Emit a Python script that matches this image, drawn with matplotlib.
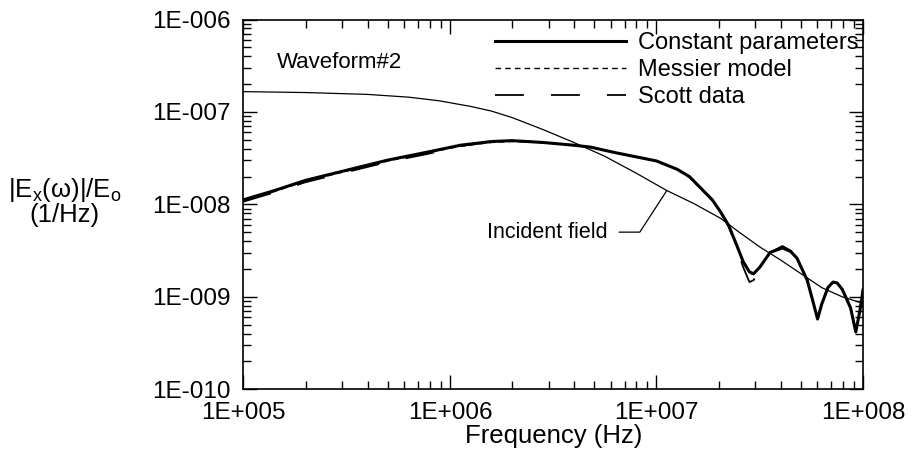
import numpy as np
import matplotlib
matplotlib.use('Agg')
import matplotlib.pyplot as plt
from matplotlib.ticker import LogLocator, FixedLocator, FixedFormatter, NullFormatter

plt.rcParams['font.family'] = ['Liberation Sans', 'DejaVu Sans']

# Data (log10 of frequency in Hz, log10 of |Ex|/Eo)
incident_logf = [5.0, 5.3, 5.6, 5.8, 5.95, 6.1, 6.2, 6.3, 6.45, 6.6, 6.75, 6.9, 7.05,
                 7.18, 7.31, 7.4, 7.5, 7.6, 7.7, 7.8, 7.9, 8.0]
incident_logy = [-6.78, -6.79, -6.81, -6.84, -6.88, -6.94, -6.99, -7.06, -7.19, -7.33,
                 -7.48, -7.66, -7.85, -7.99, -8.15, -8.30, -8.46, -8.60, -8.75, -8.90,
                 -9.00, -9.07]

const_logf = [5.0, 5.15, 5.3, 5.5, 5.7, 5.9, 6.05, 6.2, 6.3, 6.45, 6.6, 6.68, 6.8,
              7.0, 7.1, 7.16, 7.27, 7.31, 7.35, 7.39, 7.42, 7.45, 7.47, 7.5, 7.55,
              7.61, 7.65, 7.68, 7.73, 7.76, 7.78, 7.8, 7.83, 7.855, 7.875, 7.9,
              7.94, 7.965, 7.985, 8.0]
const_logy = [-7.95, -7.85, -7.74, -7.63, -7.52, -7.43, -7.36, -7.32, -7.31, -7.33,
              -7.36, -7.38, -7.44, -7.53, -7.62, -7.70, -7.95, -8.08, -8.23, -8.45,
              -8.62, -8.73, -8.75, -8.68, -8.52, -8.47, -8.51, -8.58, -8.82, -9.07,
              -9.24, -9.08, -8.90, -8.84, -8.85, -8.92, -9.12, -9.38, -9.15, -8.93]

messier_logy = [-7.96, -7.86, -7.75, -7.64, -7.53, -7.44, -7.37, -7.33, -7.32, -7.33,
                -7.36, -7.38, -7.44, -7.53, -7.62, -7.71, -7.96, -8.09, -8.24, -8.46,
                -8.63, -8.74, -8.76, -8.68, -8.52, -8.47, -8.51, -8.59, -8.83, -9.08,
                -9.22, -9.07, -8.90, -8.84, -8.85, -8.93, -9.13, -9.36, -9.14, -8.92]

scott_logy = [-7.97, -7.87, -7.76, -7.65, -7.54, -7.45, -7.37, -7.32, -7.31, -7.33,
              -7.36, -7.38, -7.44, -7.53, -7.62, -7.70, -7.95, -8.08, -8.24, -8.48,
              -8.68, -8.84, -8.82, -8.70, -8.52, -8.45, -8.50, -8.58, -8.82, -9.07,
              -9.24, -9.08, -8.90, -8.83, -8.85, -8.92, -9.12, -9.38, -9.15, -8.90]

xtick_vals = [1e5, 1e6, 1e7, 1e8]
xtick_labels = ['1E+005', '1E+006', '1E+007', '1E+008']
ytick_vals = [1e-10, 1e-9, 1e-8, 1e-7, 1e-6]
ytick_labels = ['1E-010', '1E-009', '1E-008', '1E-007', '1E-006']

fig = plt.figure(figsize=(9.14, 4.58), dpi=100)
ax = fig.add_axes([0.2664, 0.150, 0.6778, 0.8074])

f_inc = 10 ** np.array(incident_logf)
f = 10 ** np.array(const_logf)

ax.plot(f_inc, 10 ** np.array(incident_logy), color='black', lw=0.9)
ax.plot(f, 10 ** np.array(const_logy), color='black', lw=2.2, label='Constant parameters')
ax.plot(f, 10 ** np.array(messier_logy), color='black', lw=1.0, dashes=(4, 3),
        label='Messier model')
ax.plot(f, 10 ** np.array(scott_logy), color='black', lw=1.3, dashes=(16, 15),
        label='Scott data')

ax.set_xscale('log')
ax.set_yscale('log')
ax.set_xlim(1e5, 1e8)
ax.set_ylim(1e-10, 1e-6)

ax.xaxis.set_major_locator(FixedLocator(xtick_vals))
ax.xaxis.set_major_formatter(FixedFormatter(xtick_labels))
ax.yaxis.set_major_locator(FixedLocator(ytick_vals))
ax.yaxis.set_major_formatter(FixedFormatter(ytick_labels))
ax.xaxis.set_minor_locator(LogLocator(base=10, subs=np.arange(2, 10)))
ax.yaxis.set_minor_locator(LogLocator(base=10, subs=np.arange(2, 10)))
ax.xaxis.set_minor_formatter(NullFormatter())
ax.yaxis.set_minor_formatter(NullFormatter())

ax.tick_params(which='both', direction='in', top=True, right=True, width=1.0)
ax.tick_params(which='major', length=10, labelsize=17.5)
ax.tick_params(axis='y', which='major', pad=9)
ax.tick_params(axis='x', which='major', pad=9)
ax.tick_params(which='minor', length=6)
for s in ax.spines.values():
    s.set_linewidth(1.2)

ax.set_xlabel('Frequency (Hz)', fontsize=18.5, labelpad=0)
fig.text(0.071, 0.561, '|E$_\\mathregular{x}$(\u03c9)|/E$_\\mathregular{o}$\n(1/Hz)',
         ha='center', va='center', fontsize=18.5, linespacing=0.95)

ax.text(0.054, 0.885, 'Waveform#2', transform=ax.transAxes, fontsize=16,
        ha='left', va='center')

ax.annotate('Incident field', xy=(10 ** 7.05, 10 ** -7.85),
            xytext=(10 ** 6.765, 10 ** -8.30), fontsize=15.5, ha='right', va='center',
            arrowprops=dict(arrowstyle='-', lw=0.9, color='black', shrinkA=6, shrinkB=0,
                            connectionstyle='angle,angleA=0,angleB=57,rad=0'))

leg = ax.legend(loc='upper right', frameon=False, fontsize=17, handlelength=5.55,
                handletextpad=0.5, labelspacing=0.22, borderaxespad=0.0, borderpad=0.2,
                bbox_to_anchor=(1.0, 0.979))

fig.savefig('out.png', dpi=100)
